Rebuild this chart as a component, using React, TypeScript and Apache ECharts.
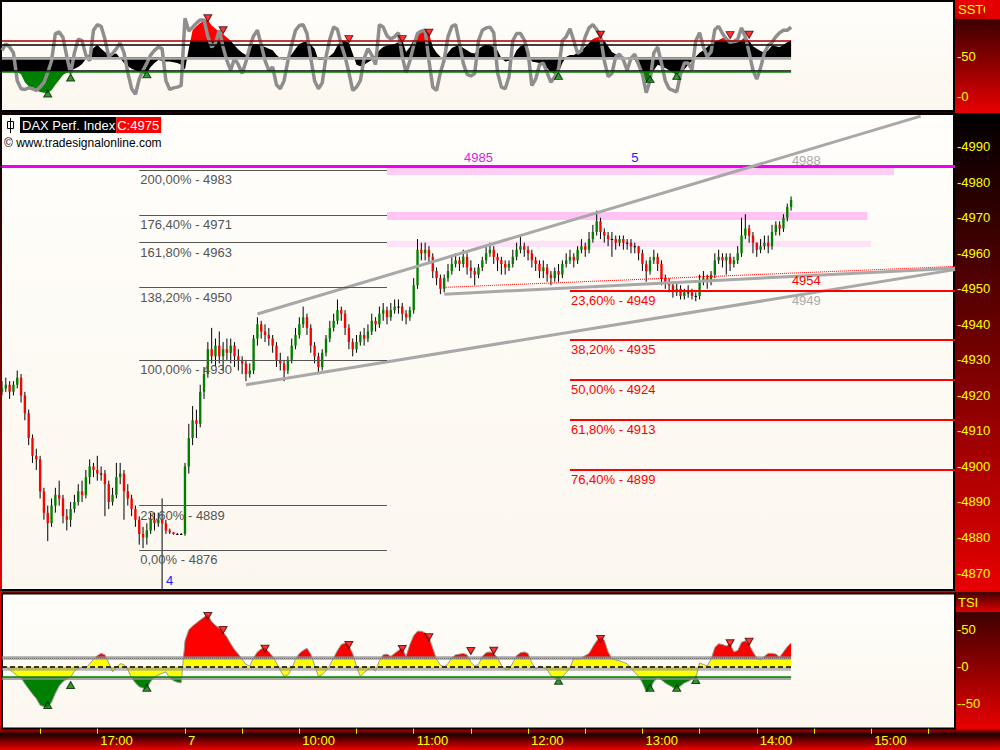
import React, { useEffect, useRef } from 'react';
import * as echarts from 'echarts';

// ---------- time categories (2-minute slots) ----------
const pad = (n: number) => (n < 10 ? '0' + n : '' + n);
const fmt = (m: number) => pad(Math.floor(m / 60)) + ':' + pad(m % 60);
const categories: string[] = [];
for (let m = 16 * 60 + 10; m <= 17 * 60 + 44; m += 2) categories.push(fmt(m));
for (let m = 9 * 60; m <= 15 * 60 + 44; m += 2) categories.push(fmt(m));

// ---------- price data (DAX Perf. Index) ----------
const firstOpen = 4921;
const closes = [
  4922, 4923, 4921, 4923, 4925, 4920, 4915, 4908, 4903, 4902,
  4893, 4887, 4884, 4889, 4892, 4891, 4886, 4885, 4888, 4890,
  4893, 4892, 4897, 4900, 4899, 4898, 4898, 4895, 4890, 4892,
  4897, 4898, 4893, 4891, 4888, 4885, 4881, 4880, 4882, 4885,
  4884, 4885, 4884, 4882, 4881.5, 4881, 4881, 4881,
  4900, 4908, 4913, 4912, 4921, 4926, 4933, 4931, 4934, 4931,
  4933, 4932, 4934, 4931, 4930, 4929, 4926, 4927, 4936, 4940,
  4938, 4937, 4936, 4934, 4930, 4929, 4927, 4930, 4934, 4937,
  4940, 4942, 4939, 4934, 4931, 4928, 4932, 4936, 4939, 4941,
  4944, 4943, 4939, 4935, 4933, 4935, 4937, 4936, 4938, 4941,
  4940, 4943, 4944, 4942, 4944, 4945, 4945, 4943, 4942, 4944,
  4951, 4961, 4960, 4961, 4959, 4955, 4953, 4950, 4953, 4955,
  4957, 4958, 4957, 4959, 4956, 4955, 4954, 4956, 4958, 4960,
  4961, 4959, 4958, 4957, 4956, 4957, 4959, 4961, 4962, 4961,
  4960, 4958, 4957, 4955, 4956, 4954, 4953, 4955, 4954, 4957,
  4958, 4959, 4958, 4961, 4962, 4961, 4964, 4966, 4969, 4966,
  4965, 4964, 4964, 4963, 4964, 4963, 4963, 4962, 4962, 4960,
  4957, 4955, 4958, 4959, 4957, 4953, 4952, 4951, 4949, 4950,
  4948, 4949, 4949, 4948, 4948, 4952, 4953, 4952, 4954, 4958,
  4959, 4958, 4959, 4957, 4958, 4960, 4965, 4967, 4965, 4963,
  4961, 4962, 4963, 4962, 4966, 4968, 4967, 4970, 4973, 4975,
];
const highs = [
  4924, 4925, 4924, 4924, 4927, 4926, 4921, 4916, 4909, 4905,
  4903, 4894, 4889, 4891, 4894, 4896, 4892, 4888, 4890, 4892,
  4895, 4896, 4899, 4902, 4901, 4903, 4900, 4899, 4896, 4894,
  4901, 4901, 4899, 4895, 4892, 4889, 4886, 4883, 4884, 4887,
  4887, 4887, 4891, 4885, 4882.5, 4881.5, 4881.3, 4881.3,
  4901, 4912, 4917, 4916, 4923, 4928, 4935, 4939, 4936, 4938,
  4935, 4936, 4936, 4935, 4933, 4931, 4930, 4929, 4937, 4942,
  4941, 4940, 4939, 4937, 4935, 4932, 4930, 4931, 4936, 4939,
  4942, 4945, 4943, 4940, 4935, 4932, 4933, 4937, 4941, 4943,
  4947, 4945, 4944, 4940, 4936, 4937, 4938, 4939, 4940, 4943,
  4942, 4945, 4946, 4945, 4946, 4947, 4947, 4946, 4944, 4945,
  4953, 4964, 4963, 4963, 4962, 4960, 4956, 4954, 4954, 4957,
  4959, 4960, 4959, 4961, 4960, 4958, 4956, 4957, 4959, 4962,
  4963, 4962, 4960, 4959, 4958, 4958, 4961, 4963, 4965, 4963,
  4962, 4961, 4959, 4958, 4958, 4957, 4955, 4956, 4957, 4958,
  4960, 4961, 4960, 4962, 4964, 4963, 4966, 4968, 4972, 4970,
  4967, 4966, 4966, 4965, 4965, 4965, 4964, 4964, 4963, 4962,
  4961, 4958, 4959, 4961, 4960, 4958, 4954, 4953, 4952, 4952,
  4951, 4950, 4951, 4950, 4949, 4954, 4955, 4954, 4955, 4960,
  4961, 4960, 4960, 4960, 4959, 4962, 4970, 4971, 4968, 4966,
  4963, 4964, 4965, 4965, 4968, 4969, 4969, 4971, 4974, 4976,
];
const lows = [
  4920, 4921, 4919, 4920, 4922, 4918, 4913, 4906, 4901, 4899,
  4891, 4885, 4879, 4883, 4887, 4889, 4884, 4882, 4883, 4887,
  4889, 4890, 4891, 4895, 4897, 4896, 4896, 4886, 4888, 4889,
  4891, 4895, 4885, 4889, 4886, 4883, 4878, 4877, 4878, 4881,
  4882, 4883, 4865.5, 4881, 4881, 4880.8, 4880.8, 4880.8,
  4880.5, 4898, 4906, 4908, 4911, 4919, 4925, 4929, 4928, 4929,
  4927, 4930, 4929, 4928, 4927, 4926, 4924, 4925, 4926, 4934,
  4936, 4935, 4934, 4932, 4928, 4927, 4924, 4926, 4929, 4933,
  4936, 4939, 4937, 4932, 4929, 4926, 4927, 4931, 4935, 4938,
  4940, 4941, 4937, 4933, 4931, 4932, 4934, 4934, 4935, 4937,
  4938, 4939, 4941, 4940, 4941, 4943, 4943, 4941, 4940, 4941,
  4943, 4950, 4958, 4958, 4957, 4953, 4951, 4948.5, 4949, 4952,
  4954, 4956, 4955, 4956, 4954, 4953, 4951, 4953, 4955, 4957,
  4959, 4957, 4955, 4954, 4954, 4955, 4956, 4958, 4960, 4959,
  4958, 4956, 4955, 4953, 4953, 4952, 4951, 4952, 4952, 4953,
  4956, 4957, 4956, 4957, 4960, 4959, 4960, 4963, 4965, 4964,
  4963, 4962, 4959, 4961, 4962, 4961, 4961, 4960, 4960, 4958,
  4955, 4952, 4954, 4957, 4955, 4951, 4950, 4949, 4947.5, 4948,
  4947, 4947, 4947.5, 4947, 4946.5, 4947, 4951, 4950, 4951, 4953,
  4957, 4956, 4954, 4955, 4956, 4957, 4959, 4964, 4963, 4960,
  4959, 4960, 4961, 4960, 4961, 4965, 4965, 4966, 4969, 4972,
];

// ---------- SSTO ----------
const sstoK = [
  58, 66, 62, 55, 20, 10, 9, 11, 10, 8,
  12, 18, 30, 45, 79, 81, 74, 50, 29, 55,
  72, 70, 52, 45, 83, 90, 88, 72, 50, 54,
  60, 67, 55, 30, 10, 3, 22, 33, 42, 52,
  58, 62, 60, 20, 9, 11, 12, 14,
  98, 82, 87, 92, 96, 96, 75, 62, 67, 83,
  62, 45, 33, 48, 40, 29, 44, 62, 76, 83,
  65, 45, 33, 37, 15, 10, 20, 45, 65, 83,
  89, 90, 79, 48, 20, 10, 17, 50, 72, 87,
  84, 65, 50, 30, 8, 12, 20, 48, 60, 52,
  40, 90, 87, 76, 72, 75, 80, 50, 30, 45,
  64, 79, 82, 83, 45, 12, 8, 30, 46, 75,
  88, 90, 67, 42, 28, 26, 29, 70, 83, 86,
  87, 80, 30, 12, 10, 25, 70, 79, 79, 71,
  55, 14, 22, 40, 42, 30, 18, 25, 35, 70,
  75, 85, 70, 54, 58, 75, 86, 90, 84, 76,
  45, 25, 29, 50, 53, 46, 33, 48, 53, 40,
  28, 5, 20, 55, 62, 42, 20, 10, 8, 6,
  28, 42, 42, 34, 70, 80, 62, 50, 56, 84,
  88, 79, 72, 68, 69, 72, 86, 75, 55, 33,
  22, 36, 55, 64, 68, 75, 80, 83, 83, 87,
];
const sstoD = [
  31, 31, 31, 31, 31, 28, 18, 13, 10, 8,
  6, 5, 5, 8, 15, 21, 27, 30, 32, 35,
  37, 41, 47, 54, 61, 65, 60, 56, 52, 53,
  54, 48, 42, 38, 35, 33, 31, 28, 30, 37,
  42, 46, 45, 44, 44, 43, 42, 40,
  34, 60, 83, 88, 92, 95, 96, 89, 85, 81,
  78, 74, 70, 64, 59, 55, 52, 60, 66, 66,
  64, 62, 60, 58, 52, 48, 46, 48, 53, 60,
  66, 68, 69, 65, 60, 46, 46, 48, 51, 55,
  64, 71, 70, 67, 54, 40, 38, 40, 43, 46,
  52, 58, 62, 64, 65, 66, 68, 71, 56, 62,
  71, 78, 83, 82, 80, 62, 55, 50, 48, 55,
  61, 63, 65, 61, 58, 55, 54, 60, 63, 65,
  64, 62, 58, 48, 44, 45, 48, 58, 63, 65,
  55, 44, 43, 42, 39, 36, 31, 28, 30, 42,
  50, 52, 52, 55, 58, 62, 67, 72, 74, 75,
  70, 63, 56, 53, 51, 50, 49, 48, 46, 38,
  28, 17, 23, 33, 40, 38, 36, 33, 30, 27,
  30, 34, 40, 45, 50, 55, 58, 62, 66, 69,
  71, 73, 75, 70, 67, 68, 71, 75, 70, 63,
  60, 57, 55, 58, 64, 63, 62, 65, 68, 71,
];
const sstoPeaks = [[54, 98], [58, 83], [91, 72], [105, 72], [112, 80], [157, 77.5], [191, 77], [196, 77.5]];
const sstoTroughs = [[12, 4], [18, 24], [38, 28], [146, 26], [170, 22], [177, 26]];

// ---------- TSI ----------
const tsi = [
  -1, 0, -4, -8, -12, -15, -23, -30, -37, -43,
  -52, -54, -55, -48, -36, -26, -20, -17, -14, -6,
  -2, -1, -2, 4, 10, 15, 18, 16, 5, -7,
  -1, 4, 3, -4, -15, -22, -27, -29, -29, -20,
  -14, -11, -9, -7, -15, -19, -21, -22,
  35, 50, 55, 59, 63, 67, 70, 61, 56, 52,
  47, 40, 31, 23, 17, 10, 3, 1, 12, 20,
  24, 25, 20, 14, 5, -5, -13, -11, -3, 10,
  18, 22, 25, 17, 2, -13, -11, -5, 2, 12,
  22, 30, 32, 28, 18, 0, -13, -8, -4, -2,
  -6, 8, 16, 17, 14, 18, 22, 25, 14, 30,
  42, 48, 48, 46, 40, 25, 10, 2, 0, 4,
  12, 16, 17, 18, 16, 6, 1, 3, 14, 19,
  20, 18, 12, 2, -4, -4, 5, 15, 19, 20,
  18, 5, -3, 0, -1, -4, -12, -16, -19, -14,
  -8, -2, 12, 10, 12, 15, 18, 27, 35, 40,
  36, 20, 11, 9, 8, 6, 4, -2, -8, -13,
  -22, -34, -31, -20, -15, -18, -22, -25, -28, -30,
  -26, -22, -20, -17, -15, 5, 3, 1, 10, 26,
  31, 30, 28, 31, 20, 22, 33, 35, 30, 20,
  12, 9, 14, 18, 18, 17, 13, 20, 27, 32,
];
const tsiPeaks = [[54, 68.5], [58, 49.6], [69, 24.3], [91, 29.3], [105, 24], [112, 39.7], [123, 21.2], [129, 21.6], [157, 37.4], [191, 31.6], [196, 33.8]];
const tsiTroughs = [[12, -51.8], [18, -24.7], [38, -28.4], [146, -18.9], [170, -28.4], [177, -28.4], [182, -18]];

// ---------- Fibonacci levels ----------
const fibUpLabels = ['200,00% - 4983', '176,40% - 4971', '161,80% - 4963', '138,20% - 4950', '100,00% - 4930', '23,60% - 4889', '0,00% - 4876'];
const fibUpValues = [4983.4, 4970.8, 4963.0, 4950.3, 4929.9, 4889.0, 4876.4];
const fibDownLabels = ['23,60% - 4949', '38,20% - 4935', '50,00% - 4924', '61,80% - 4913', '76,40% - 4899'];
const fibDownValues = [4949.4, 4935.6, 4924.3, 4913.1, 4899.0];

const FONT = 'Arial, "Liberation Sans", sans-serif';
const YEL = '#ffff00';
const LAST = closes.length - 1;

const grad = (a: string, b: string, mid?: [number, string]) => ({
  type: 'linear', x: 0, y: 0, x2: 0, y2: 1,
  colorStops: mid
    ? [{ offset: 0, color: a }, { offset: mid[0], color: mid[1] }, { offset: 1, color: b }]
    : [{ offset: 0, color: a }, { offset: 1, color: b }],
});
const cream = grad('#fffefb', '#fcf7ee');

const level = (v: number, style: any, from = 0, to = LAST) => [
  { coord: [from, v], lineStyle: style },
  { coord: [to, v] },
];

export default function App() {
  const ref = useRef<HTMLDivElement>(null);
  useEffect(() => {
    if (!ref.current) return;
    const chart = echarts.init(ref.current, null, { renderer: 'svg' });

    const candleData = closes.map((c, i) => [i, i === 0 ? firstOpen : closes[i - 1], c, lows[i], highs[i]]);
    const tickMinutes = (v: string) => {
      const [h, m] = v.split(':').map(Number);
      return h * 60 + m;
    };
    const isTick = (i: number) => {
      const v = categories[i];
      const t = tickMinutes(v);
      return t % 30 === 0 && v !== '17:30';
    };
    const isLabel = (i: number) => {
      const t = tickMinutes(categories[i]);
      return t % 60 === 0;
    };

    const yAxisBase = (gridIndex: number, min: number, max: number, interval: number, shown: number[]) => ({
      type: 'value', gridIndex, min, max, interval, position: 'right',
      axisLine: { show: false }, axisTick: { show: false }, splitLine: { show: false },
      axisLabel: {
        color: YEL, fontSize: 13, fontFamily: FONT, margin: 2,
        formatter: (v: number) => (shown.indexOf(v) >= 0 ? '-' + v : ''),
      },
    });

    const fibMarks: any[] = [];
    fibUpValues.forEach((v, k) => {
      fibMarks.push([
        {
          coord: [36, v], lineStyle: { color: '#555555', width: 1, type: 'solid' },
          label: { show: true, position: 'insideStartBottom', formatter: fibUpLabels[k], color: '#555555', fontSize: 13, fontFamily: FONT, distance: [1, 3] },
        },
        { coord: [101, v] },
      ]);
    });
    fibDownValues.forEach((v, k) => {
      fibMarks.push([
        {
          coord: [149, v], lineStyle: { color: '#ff0000', width: 2, type: 'solid' },
          label: { show: true, position: 'insideStartBottom', formatter: fibDownLabels[k], color: '#ff0000', fontSize: 13, fontFamily: FONT, distance: [1, 3] },
        },
        { coord: [250, v] },
      ]);
    });

    const textPoint = (i: number, v: number, text: string, color: string) => ({
      coord: [i, v], symbol: 'rect', symbolSize: 1, itemStyle: { color: 'rgba(0,0,0,0)' },
      label: { show: true, position: 'inside', formatter: text, color, fontSize: 13, fontFamily: FONT },
    });

    const option: any = {
      animation: false,
      backgroundColor: '#200000',
      grid: [
        { left: 2, width: 953, top: 0.7, height: 112 },
        { left: 2, width: 953, top: 111.17, height: 497.4 },
        { left: 2, width: 953, top: 592.7, height: 148 },
        { left: 2, width: 953, top: 700, height: 28.7 },
      ],
      xAxis: [0, 1, 2].map((g) => ({
        type: 'category', gridIndex: g, data: categories, boundaryGap: false, show: false,
      })).concat([{
        type: 'category', gridIndex: 3, data: categories, boundaryGap: false, position: 'bottom', offset: 2,
        axisLine: { show: false },
        axisTick: { show: true, length: 5, interval: (i: number) => isTick(i), lineStyle: { color: YEL, width: 1 } },
        axisLabel: {
          show: true, interval: (i: number) => isLabel(i), color: YEL, fontSize: 13, fontFamily: FONT,
          align: 'left', padding: [0, 0, 0, 3], margin: 3,
          formatter: (v: string) => (v === '09:00' ? '7' : v),
        },
      } as any]),
      yAxis: [
        yAxisBase(0, -20, 120, 10, [0, 50]),
        yAxisBase(1, 4860, 5000, 10, [4870, 4880, 4890, 4900, 4910, 4920, 4930, 4940, 4950, 4960, 4970, 4980, 4990]),
        yAxisBase(2, -100, 100, 50, [-50, 0, 50]),
        { type: 'value', gridIndex: 3, show: false },
      ],
      visualMap: [
        {
          type: 'piecewise', show: false, seriesIndex: 1, dimension: 1,
          pieces: [
            { gt: 70, color: '#ff0000' },
            { gte: 31, lte: 70, color: '#000000' },
            { lt: 31, color: '#008000' },
          ],
        },
        {
          type: 'piecewise', show: false, seriesIndex: 7, dimension: 1,
          pieces: [
            { gte: 12, color: '#ff0000' },
            { gte: -13.5, lt: 12, color: '#ffff00' },
            { lt: -13.5, color: '#008000' },
          ],
        },
      ],
      series: [
        // 0: SSTO baseline band (under the fill)
        {
          type: 'line', xAxisIndex: 0, yAxisIndex: 0, data: sstoD, showSymbol: false, z: 1, silent: true,
          lineStyle: { opacity: 0 },
          markLine: {
            silent: true, symbol: ['none', 'none'], label: { show: false },
            data: [level(48.3, { color: '#a8a8a8', width: 2.5, type: 'solid' })],
          },
        },
        // 1: SSTO signal area
        {
          type: 'line', xAxisIndex: 0, yAxisIndex: 0, data: sstoD, showSymbol: false, z: 2, silent: true,
          lineStyle: { opacity: 0, width: 0 },
          areaStyle: { origin: 49.25, opacity: 1 },
          markLine: {
            silent: true, symbol: ['none', 'none'], label: { show: false },
            data: [
              level(70, { color: '#a00000', width: 1.5, type: 'solid' }),
              level(65.5, { color: '#000000', width: 1.5, type: 'solid' }),
              level(33, { color: '#000000', width: 1.5, type: 'solid' }),
              level(31, { color: '#008000', width: 1.5, type: 'solid' }),
            ],
          },
        },
        // 2: SSTO %K gray line
        {
          type: 'line', xAxisIndex: 0, yAxisIndex: 0, data: sstoK, showSymbol: false, z: 3, silent: true,
          lineStyle: { color: '#8e8e8e', width: 3.5 },
        },
        // 3, 4: SSTO markers
        {
          type: 'scatter', xAxisIndex: 0, yAxisIndex: 0, data: sstoPeaks, z: 4, silent: true,
          symbol: 'triangle', symbolSize: [8, 7], symbolRotate: 180,
          itemStyle: { color: '#ff0000', borderColor: '#400000', borderWidth: 1 },
        },
        {
          type: 'scatter', xAxisIndex: 0, yAxisIndex: 0, data: sstoTroughs, z: 4, silent: true,
          symbol: 'triangle', symbolSize: [8, 7],
          itemStyle: { color: '#008000', borderColor: '#002000', borderWidth: 1 },
        },
        // 5: candles
        {
          type: 'custom', xAxisIndex: 1, yAxisIndex: 1, data: candleData, z: 3, clip: true, silent: true,
          encode: { x: 0, y: [1, 2, 3, 4] },
          renderItem: (params: any, api: any) => {
            const i = api.value(0);
            const o = api.value(1);
            const c = api.value(2);
            const l = api.value(3);
            const h = api.value(4);
            const pt = api.coord([i, h]);
            const pb = api.coord([i, l]);
            const po = api.coord([i, o]);
            const pc = api.coord([i, c]);
            const w = api.size([1, 0])[0] * 0.62;
            const x = pt[0];
            const y1 = Math.min(po[1], pc[1]);
            const hh = Math.max(1, Math.abs(po[1] - pc[1]));
            return {
              type: 'group',
              children: [
                { type: 'line', shape: { x1: x, y1: pt[1], x2: x, y2: pb[1] }, style: { stroke: '#000000', lineWidth: 1 } },
                { type: 'rect', shape: { x: x - w / 2, y: y1, width: w, height: hh }, style: { fill: c > o ? '#008000' : c < o ? '#ff0000' : '#000000' } },
              ],
            };
          },
        },
        // 6: annotations on the price panel
        {
          type: 'line', xAxisIndex: 1, yAxisIndex: 1, data: closes, showSymbol: false, z: 1, silent: true,
          lineStyle: { opacity: 0, width: 0 },
          markArea: {
            silent: true,
            data: [
              [{ coord: [101, 4984.3], itemStyle: { color: '#ffccf4' } }, { coord: [234, 4982.0] }],
              [{ coord: [101, 4971.6], itemStyle: { color: '#ffc4f4' } }, { coord: [227, 4969.4] }],
              [{ coord: [101, 4963.5], itemStyle: { color: '#ffe2f6' } }, { coord: [228, 4961.8] }],
            ],
          },
          markLine: {
            silent: true, symbol: ['none', 'none'], label: { show: false },
            data: [
              { yAxis: 4984.5, lineStyle: { color: '#ee00ee', width: 3, type: 'solid' } },
              [{ coord: [67, 4942.9], lineStyle: { color: '#a8a8a8', width: 3, type: 'solid' } }, { coord: [241, 4998.6] }],
              [{ coord: [64, 4923.0], lineStyle: { color: '#a8a8a8', width: 3, type: 'solid' } }, { coord: [250, 4955.4] }],
              [{ coord: [116, 4948.5], lineStyle: { color: '#a8a8a8', width: 3, type: 'solid' } }, { coord: [250, 4955.8] }],
              [{ coord: [116, 4950.4], lineStyle: { color: '#ff0000', width: 1, type: 'dotted' } }, { coord: [250, 4956.3] }],
              ...fibMarks,
            ],
          },
          markPoint: {
            silent: true,
            data: [
              textPoint(125, 4987.1, '4985', '#dd22dd'),
              textPoint(166, 4987.1, '5', '#2020ff'),
              textPoint(211, 4986.0, '4988', '#aaaaaa'),
              textPoint(211, 4952.2, '4954', '#ff0000'),
              textPoint(211, 4946.6, '4949', '#aaaaaa'),
              textPoint(44, 4867.8, '4', '#2020ff'),
            ],
          },
        },
        // 7: TSI area
        {
          type: 'line', xAxisIndex: 2, yAxisIndex: 2, data: tsi, showSymbol: false, z: 2, silent: true,
          lineStyle: { opacity: 0, width: 0 },
          areaStyle: { origin: 0, opacity: 1 },
        },
        // 8: TSI line + levels
        {
          type: 'line', xAxisIndex: 2, yAxisIndex: 2, data: tsi, showSymbol: false, z: 3, silent: true,
          lineStyle: { color: '#9a9a9a', width: 1 },
          markLine: {
            silent: true, symbol: ['none', 'none'], label: { show: false },
            data: [
              level(11.5, { color: 'rgba(140,140,140,0.75)', width: 3.5, type: 'solid' }),
              level(11.5, { color: '#777777', width: 1, type: 'dotted' }),
              level(-2.4, { color: 'rgba(140,140,140,0.6)', width: 3.5, type: 'solid' }),
              level(0, { color: '#000000', width: 1.5, type: [5, 3] }),
              level(-15.7, { color: 'rgba(140,140,140,0.75)', width: 3, type: 'solid' }),
              level(-13, { color: '#008000', width: 1.5, type: 'solid' }),
            ],
          },
        },
        // 9, 10: TSI markers
        {
          type: 'scatter', xAxisIndex: 2, yAxisIndex: 2, data: tsiPeaks, z: 4, silent: true,
          symbol: 'triangle', symbolSize: [8, 7], symbolRotate: 180,
          itemStyle: { color: '#ff0000', borderColor: '#400000', borderWidth: 1 },
        },
        {
          type: 'scatter', xAxisIndex: 2, yAxisIndex: 2, data: tsiTroughs, z: 4, silent: true,
          symbol: 'triangle', symbolSize: [8, 7],
          itemStyle: { color: '#008000', borderColor: '#002000', borderWidth: 1 },
        },
      ],
      graphic: {
        elements: [
          // backgrounds
          { type: 'rect', z: -10, silent: true, shape: { x: 955, y: 0, width: 45, height: 113 }, style: { fill: grad('#1a0000', '#e80000') } },
          { type: 'rect', z: -9, silent: true, shape: { x: 955, y: 0, width: 45, height: 19 }, style: { fill: grad('#ee0000', '#c80000') } },
          { type: 'rect', z: -10, silent: true, shape: { x: 0, y: 110, width: 955, height: 5 }, style: { fill: '#1a0505' } },
          { type: 'rect', z: -10, silent: true, shape: { x: 0, y: 113, width: 1000, height: 478 }, style: { fill: grad('#000000', '#e80000') } },
          { type: 'rect', z: -10, silent: true, shape: { x: 0, y: 589, width: 1000, height: 5 }, style: { fill: '#e00000' } },
          { type: 'rect', z: -10, silent: true, shape: { x: 955, y: 592, width: 45, height: 137 }, style: { fill: grad('#200000', '#e80000') } },
          { type: 'rect', z: -9, silent: true, shape: { x: 955, y: 592, width: 45, height: 20 }, style: { fill: grad('#400000', '#e00000') } },
          { type: 'rect', z: -10, silent: true, shape: { x: 0, y: 592, width: 2, height: 137 }, style: { fill: '#e00000' } },
          { type: 'rect', z: -10, silent: true, shape: { x: 0, y: 729, width: 1000, height: 21 }, style: { fill: grad('#c00000', '#f00000', [0.25, '#200000']) } },
          // plot areas
          { type: 'rect', z: -5, silent: true, shape: { x: 1, y: 1, width: 953, height: 110 }, style: { fill: cream, stroke: '#000000', lineWidth: 2 } },
          { type: 'rect', z: -5, silent: true, shape: { x: 2, y: 115, width: 952, height: 475 }, style: { fill: cream } },
          { type: 'line', z: -4, silent: true, shape: { x1: 954, y1: 113, x2: 954, y2: 591 }, style: { stroke: '#000000', lineWidth: 2 } },
          { type: 'line', z: -4, silent: true, shape: { x1: 0, y1: 590, x2: 955, y2: 590 }, style: { stroke: '#000000', lineWidth: 2 } },
          { type: 'rect', z: -5, silent: true, shape: { x: 2, y: 593.5, width: 953, height: 135 }, style: { fill: cream, stroke: '#000000', lineWidth: 2 } },
          // headers
          { type: 'text', z: 100, silent: true, x: 958, y: 3, style: { text: 'SSTO', fill: YEL, fontSize: 13, fontFamily: FONT } },
          { type: 'rect', z: 101, silent: true, shape: { x: 985, y: 0, width: 15, height: 19 }, style: { fill: '#e40000' } },
          { type: 'text', z: 100, silent: true, x: 958, y: 596, style: { text: 'TSI', fill: YEL, fontSize: 13, fontFamily: FONT } },
          // legend
          { type: 'rect', z: 100, silent: true, shape: { x: 7.5, y: 121.5, width: 6, height: 7 }, style: { fill: 'none', stroke: '#000000', lineWidth: 1 } },
          { type: 'line', z: 100, silent: true, shape: { x1: 10.5, y1: 118, x2: 10.5, y2: 133 }, style: { stroke: '#000000', lineWidth: 1 } },
          {
            type: 'text', z: 100, silent: true, x: 20, y: 117,
            style: {
              text: '{a|DAX Perf. Index}{b|C:4975}',
              fontSize: 13, fontFamily: FONT,
              rich: {
                a: { fill: '#ffffff', backgroundColor: '#000000', padding: [2, 1, 1, 2], fontSize: 13, fontFamily: FONT },
                b: { fill: '#ffffff', backgroundColor: '#ff0000', padding: [2, 2, 1, 1], fontSize: 13, fontFamily: FONT },
              },
            },
          },
          { type: 'text', z: 100, silent: true, x: 4, y: 137, style: { text: '© www.tradesignalonline.com', fill: '#000000', fontSize: 12, fontFamily: FONT } },
        ],
      },
    };

    chart.setOption(option);
    return () => chart.dispose();
  }, []);

  return <div ref={ref} style={{ position: 'absolute', left: 0, top: 0, width: 1000, height: 750 }} />;
}
